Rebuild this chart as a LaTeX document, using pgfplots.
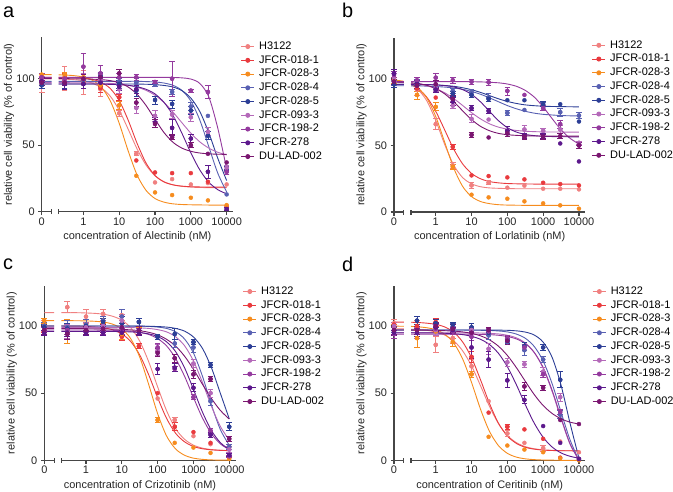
\documentclass[border=0pt]{standalone}
\usepackage{fontspec}
\setmainfont{Liberation Sans}
\usepackage{pgfplots}
\usepackage{pgfplotstable}
\pgfplotsset{compat=1.18}
\definecolor{c1}{RGB}{240,128,128}
\definecolor{c2}{RGB}{233,58,62}
\definecolor{c3}{RGB}{246,140,30}
\definecolor{c4}{RGB}{88,96,178}
\definecolor{c5}{RGB}{44,62,150}
\definecolor{c6}{RGB}{180,105,185}
\definecolor{c7}{RGB}{148,58,158}
\definecolor{c8}{RGB}{92,24,140}
\definecolor{c9}{RGB}{122,22,112}
\definecolor{axcol}{RGB}{70,70,70}
\newcommand\fs{\fontsize{11}{13}\selectfont}

% ---------------- Panel a (Alectinib)
\pgfplotstableread{
x      s1   e1  s2   e2 s3   e3 s4   e4 s5  e5 s6  e6 s7   e7 s8 e8 s9   e9
-1.165 96   6   100  2  103  1  97   2  95  2  100 2  101  3  98 3  97   2
-0.523 100  9   101  3  103  2  97   2  96  3  99  2  100  3  96 4  97   2
0      97   9   99   3  101  3  99   3  96  3  100 4  109  10 96 3  100  3
0.477  92   5   93   3  95   3  101  3  102 3  99  4  104  6  97 3  101  3
1      74   2   86   2  80   3  98   2  96  3  92  3  101  3  94 3  104  3
1.477  43.5 1.5 38.5 0  27   0  97   3  91  4  78  4  101  2  92 3  82   3
2      22   0   29.5 0  14.5 0  95.5 1  84  3  72  4  97.5 1  67 4  66   3
2.477  24.5 0   29   0  12.5 0  90   2  81  3  73  3  100  13 63 6  56   2
3      20.5 0   29   0  10.5 0  79   3  76  3  71  3  91   1  55 3  50   2
3.477  21.5 0   22.5 0  8.5  0  72   0  57  3  60  3  90   5  30 5  43.5 0
4      20.5 0   4    0  5    0  13   0  31  3  33  2  30   2  2  1  37   0
}\ptsA
\pgfplotstableread{
x      c1   c2    c3    c4   c5   c6   c7    c8   c9
-1.165 100  101   103   98   96   97   101   96   100
-0.89  100  101   103   98   96   97   101   96   100
-0.8   nan  nan   nan   nan  nan  nan  nan   nan  nan
-0.69  99.8 101   102.8 98   96   97   101   96   100
-0.5   99.6 100.9 102.7 98   96   97   101   96   100
-0.25  99.2 100.7 102.2 98   96   96.9 101   96   99.9
0      98.4 100.3 101.2 98   96   96.9 101   96   99.8
0.25   96.6 99.4  98.8  98   96   96.8 101   96   99.6
0.5    93.1 97.2  93.6  98   96   96.6 101   95.9 99.3
0.75   86.8 92.6  83.3  98   96   96.4 101   95.7 98.5
1      76.2 83.5  66.4  98   96   95.9 101   95.5 96.9
1.25   62.0 68.8  45.7  98   96   95.0 101   95.0 93.7
1.5    47.1 51.3  27.5  98   95.9 93.6 101   93.9 88.2
1.75   35.0 36.5  16.0  97.8 95.8 91.2 101   92.0 79.8
2      27.0 27.2  9.9   97.5 95.5 87.5 101   88.5 69.4
2.25   22.5 22.4  7.2   96.7 94.9 82.1 101   82.2 59.5
2.5    20.2 20.2  5.9   95.0 93.7 74.9 100.9 72.4 52.2
2.75   19.1 19.2  5.4   91.2 91.0 66.9 100.6 59.0 47.8
3      18.5 18.8  5.2   83.2 85.4 59.0 99.7  44.2 45.4
3.25   18.2 18.6  5.1   68.9 75.3 52.5 96.4  31.4 44.1
3.5    18.1 18.5  5.0   49.0 59.4 47.8 86.4  22.2 43.5
3.75   18.0 18.5  5.0   29.1 40.3 44.7 63.0  16.6 43.2
4      18.0 18.5  5.0   14.8 23.4 42.7 32.1  13.4 43.1
}\curA

% ---------------- Panel b (Lorlatinib)
\pgfplotstableread{
x      s1   e1  s2   e2 s3  e3 s4   e4 s5 e5 s6   e6 s7   e7 s8   e8 s9   e9
-1.165 101  3   101  3  99  2  97   2  96 2  101  3  103  3  104  3  98   2
-0.523 92   4   93   2  88  3  98   2  97 2  95   3  99   2  96   3  95   2
0      66   4   86   0  79  3  93   2  92 2  93   2  101  3  92   2  96   3
0.477  35   2   49   2  34  2  91   2  89 2  80   2  99   2  83   3  85   3
1      20   2   27.5 0  13  0  90   2  88 2  70   3  98   2  78   2  58   2
1.477  22   1.5 27   0  11  0  86   3  85 2  69.5 0  97.5 2  76   2  56   0
2      18.3 0   26   0  10  0  74.5 2  84 0  60   2  91   3  61   3  59   2
2.477  19.8 0   24.5 0  8   0  76.7 0  84 0  62   3  88   0  57   2  56.5 2
3      17.5 0   22   0  6.5 0  79   3  81 2  61   2  78   2  57   2  56.5 2
3.477  17.5 0   21   0  5   0  75   3  81 0  62   3  66   3  51.5 0  57   2
4      17   0   20   0  2.5 0  72.5 2  68 0  52   1  51   1  38   0  50   2
}\ptsB
\pgfplotstableread{
x      c1   c2   c3   c4   c5   c6   c7   c8   c9
-1.165 99.2 98.9 99.3 94.9 96.0 97.6 98.0 96.0 97.8
-0.89  98.0 97.6 98.2 94.9 95.9 97.2 98.0 96.0 97.5
-0.8   nan  nan  nan  nan  nan  nan  nan  nan  nan
-0.69  96.0 95.8 96.4 94.8 95.9 96.8 98.0 95.9 97.1
-0.5   92.3 92.8 93.4 94.8 95.8 96.2 98.0 95.9 96.6
-0.25  83.6 86.3 85.7 94.6 95.7 94.9 98.0 95.8 95.2
0      68.9 75.7 71.8 94.3 95.5 92.8 98.0 95.5 92.8
0.25   50.8 61.7 52.5 93.9 95.1 89.6 98.0 95.0 88.8
0.5    35.4 47.4 33.2 93.2 94.5 85.3 98.0 94.0 83.0
0.75   25.9 36.2 19.3 92.2 93.4 80.1 98.0 92.0 76.1
1      21.2 29.0 11.6 90.6 91.9 74.7 97.9 88.4 69.5
1.25   19.0 25.0 7.9  88.5 89.9 70.0 97.8 82.8 64.4
1.5    18.1 22.9 6.3  85.8 87.5 66.3 97.5 75.7 61.1
1.75   17.8 21.9 5.5  82.9 85.1 63.8 97.1 68.7 59.1
2      17.6 21.4 5.2  80.0 83.1 62.3 96.2 63.4 58.1
2.25   17.5 21.2 5.1  77.6 81.6 61.3 94.5 60.1 57.6
2.5    17.5 21.1 5.0  75.7 80.5 60.7 91.4 58.3 57.3
2.75   17.5 21.0 5.0  74.3 79.9 60.4 86.4 57.4 57.1
3      17.5 21.0 5.0  73.4 79.5 60.2 79.0 56.9 57.1
3.25   17.5 21.0 5.0  72.9 79.3 60.1 70.2 56.7 57.0
3.5    17.5 21.0 5.0  72.5 79.2 60.1 61.8 56.6 57.0
3.75   17.5 21.0 5.0  72.3 79.1 60.0 55.4 56.5 57.0
4      17.5 21.0 5.0  72.2 79.0 60.0 51.1 56.5 57.0
}\curB

% ---------------- Panel c (Crizotinib)
\pgfplotstableread{
x      s1  e1 s2 e2 s3  e3 s4  e4 s5  e5 s6  e6 s7 e7 s8 e8 s9   e9
-1.165 100 4  98 3  104 2  100 3  99  2  97  3  96 3  95 2  97   3
-0.523 114 4  95 5  96  9  99  5  98  4  96  5  97 3  95 3  94   4
0      107 5  97 2  101 4  101 4  100 3  99  4  96 3  95 2  97   3
0.477  109 3  97 3  104 2  104 3  103 3  100 4  96 2  95 2  98   3
1      108 4  92 3  94  4  107 5  102 5  104 5  96 2  95 2  99   3
1.477  96  0  85 2  96  3  103 3  103 3  97  3  96 2  95 2  97   3
2      46  0  50 0  30  2  92  2  92  2  82  4  84 3  68 4  80   3
2.477  30  2  25 3  13  0  87  3  94  4  76  3  68 2  69 3  76   3
3      18  0  21 0  9.5 0  84  4  88  2  72  3  47 2  54 3  64   3
3.477  12  0  13 0  5.5 0  44  3  71  2  50  3  22 2  19 2  60.5 2
4      10  2  2  0  1   0  10  2  25  3  8   2  3  1  4  1  16   2
}\ptsC
\pgfplotstableread{
x      c1    c2    c3    c4    c5    c6   c7   c8   c9
-1.165 110.0 100.0 104.0 100.0 100.0 99.0 97.0 96.0 98.0
-0.89  110.0 100.0 104.0 100.0 100.0 99.0 97.0 96.0 98.0
-0.8   nan   nan   nan   nan   nan   nan  nan  nan  nan
-0.69  110.0 100.0 104.0 100.0 100.0 99.0 97.0 96.0 98.0
-0.5   109.9 99.9  104.0 100.0 100.0 99.0 97.0 96.0 98.0
-0.25  109.9 99.9  103.9 100.0 100.0 99.0 97.0 96.0 98.0
0      109.7 99.7  103.8 100.0 100.0 99.0 97.0 96.0 98.0
0.25   109.4 99.3  103.5 100.0 100.0 99.0 97.0 96.0 97.9
0.5    108.7 98.6  102.9 100.0 100.0 99.0 96.9 96.0 97.8
0.75   107.2 97.1  101.3 100.0 100.0 99.0 96.8 95.9 97.7
1      104.3 94.1  97.8  100.0 100.0 98.9 96.6 95.8 97.5
1.25   98.7  88.4  90.5  99.9  100.0 98.8 96.2 95.6 97.1
1.5    88.7  78.4  76.8  99.9  99.9  98.6 95.3 95.1 96.5
1.75   73.4  63.7  56.5  99.7  99.8  98.2 93.7 94.1 95.3
2      54.7  46.6  34.7  99.2  99.6  97.3 90.6 92.2 93.4
2.25   36.9  31.2  18.1  98.2  99.2  95.6 85.2 88.2 90.1
2.5    23.6  20.2  8.5   95.7  98.2  92.0 75.9 81.0 85.1
2.75   15.7  13.8  3.8   90.4  96.2  85.4 62.7 69.0 77.6
3      11.3  10.3  1.6   79.9  91.8  74.0 46.8 52.9 67.8
3.25   9.1   8.6   0.7   62.7  83.4  58.1 31.6 36.0 56.7
3.5    8.0   7.8   0.3   41.5  69.1  40.4 19.9 22.3 46.1
3.75   7.5   7.4   0.1   23.0  50.0  25.3 12.3 13.2 37.2
4      7.2   7.2   0.1   11.2  30.9  15.0 7.9  8.1  30.7
}\curC

% ---------------- Panel d (Ceritinib)
\pgfplotstableread{
x      s1  e1 s2   e2 s3   e3 s4 e4 s5  e5 s6   e6 s7 e7 s8   e8 s9  e9
-1.165 102 3  101  2  99   2  97 2  96  3  100  3  94 3  95   2  97  3
-0.523 98  6  100  3  91   7  97 3  104 3  95   4  95 3  95   3  97  3
0      86  6  103  3  96   3  100 3 102 3  97   4  98 3  99   3  100 3
0.477  91  4  98   2  88   3  99 3  101 2  97   3  96 2  97   2  98  3
1      70  5  77   4  64   2  97 3  99  3  97   3  92 3  84   8  95  3
1.477  44  0  35.5 0  17.5 0  93 3  95  2  83   4  96 2  75   6  97  2
2      20  2  25   2  11   0  88 2  89  2  73   3  91 2  59.5 5  89  3
2.477  13  0  23   0  8    0  82 4  85  3  71.5 2  84 2  45   3  55  3
3      9   2  16   0  6    0  75 2  84  2  66   3  64 2  25.5 0  54  2
3.477  14  0  2    0  1.5  0  34 3  60  6  47   3  36 2  13   0  30  0
4      6   0  1    0  0    0  1  0  1   0  1    0  1  0  1    0  27  0
}\ptsD
\pgfplotstableread{
x      c1   c2    c3   c4   c5   c6   c7   c8   c9
-1.165 97.9 102.9 99.9 97.0 97.0 95.0 94.0 95.0 97.0
-0.89  97.8 102.9 99.8 97.0 97.0 95.0 94.0 95.0 97.0
-0.8   nan  nan   nan  nan  nan  nan  nan  nan  nan
-0.69  97.6 102.8 99.7 97.0 97.0 95.0 94.0 95.0 96.9
-0.5   97.4 102.6 99.4 97.0 97.0 95.0 94.0 94.9 96.9
-0.25  96.8 102.1 98.7 97.0 97.0 95.0 94.0 94.9 96.9
0      95.5 101.2 97.2 97.0 97.0 95.0 94.0 94.8 96.7
0.25   93.3 99.3  93.9 97.0 97.0 95.0 94.0 94.6 96.5
0.5    89.0 95.4  87.4 97.0 97.0 95.0 94.0 94.2 96.2
0.75   81.6 88.2  75.6 97.0 97.0 95.0 94.0 93.6 95.6
1      70.3 76.4  58.0 96.9 97.0 94.9 93.9 92.3 94.5
1.25   55.6 60.0  38.1 96.8 97.0 94.8 93.8 90.1 92.7
1.5    40.2 42.4  21.6 96.7 97.0 94.5 93.6 86.2 89.7
1.75   27.4 27.7  11.0 96.3 96.9 94.1 93.1 79.7 85.0
2      18.5 18.1  5.2  95.6 96.8 93.1 92.2 69.7 78.1
2.25   13.2 12.6  2.4  94.0 96.4 91.2 90.4 56.4 69.1
2.5    10.2 9.7   1.1  90.9 95.5 87.4 86.9 41.5 58.9
2.75   8.6  8.3   0.5  84.8 93.3 80.4 80.3 27.7 49.0
3      7.8  7.6   0.2  74.0 88.0 68.6 69.1 17.1 40.8
3.25   7.4  7.3   0.1  57.1 76.7 51.3 52.2 9.9  34.9
3.5    7.2  7.1   0.0  35.9 55.9 30.9 31.8 5.5  30.9
3.75   7.1  7.1   0.0  15.3 27.7 12.1 12.4 3.0  28.4
4      7.0  7.0   0.0  0.0  1.6  0.5  0.3  1.6  27.0
}\curD

\pgfplotsset{
  panel/.style={
    scale only axis, width=191.4bp,
    xmin=-1.165, xmax=4.18, ymin=0,
    axis lines=left,
    axis line style={-, line width=1.2bp, draw=axcol},
    x axis line style={draw=none},
    xtick={-1.165,0,1,2,3,4},
    xticklabels={0,1,10,100,1000,10000},
    extra x ticks={-0.89,-0.69},
    extra x tick labels={},
    extra x tick style={tick align=center, major tick length=5bp},
    ytick={0,50,100}, yticklabels={0,50,100},
    tick align=outside, major tick length=3.5bp,
    tick style={line width=1.2bp, draw=axcol},
    tick label style={font=\fs, text=black!85},
    xticklabel style={yshift=1bp},
    label style={font=\fs, text=black!85},
    xlabel style={at={(axis description cs:0.5,-0.143)}, anchor=center},
    ylabel style={at={(axis description cs:-0.17,0.5)}, anchor=center},
    ylabel={relative cell viability (\% of control)},
    clip=false,
    unbounded coords=jump,
    legend style={draw=none, fill=none, font=\fs, anchor=north west,
      inner sep=0pt, outer sep=0pt, row sep=3.45bp, column sep=4.3bp,
      nodes={inner sep=0pt, text height=8bp, text depth=2.3bp}},
    legend cell align=left,
    legend image code/.code={\draw[mark repeat=2,mark phase=2,##1]
      plot coordinates {(0bp,0bp) (6.65bp,0bp) (13.3bp,0bp)};},
  },
  curve/.style={no marks, smooth, line width=0.9bp},
  lgd/.style={mark=*, mark size=2bp, line width=0.9bp},
  pts/.style={only marks, mark=*, mark size=2bp},
  errs/.style={only marks, mark=none,
    error bars/y dir=both, error bars/y explicit,
    error bars/error bar style={line width=0.8bp},
    error bars/error mark options={rotate=90, mark size=2.8bp, line width=0.8bp}},
}
\newcommand\xbreak{%
  \draw[axcol, line width=1.2bp] (axis cs:-1.165,0) -- (axis cs:-0.89,0);
  \draw[axcol, line width=1.2bp] (axis cs:-0.69,0) -- (axis cs:4.18,0);}
\newcommand\mylegend{%
  \addlegendimage{c1,lgd}\addlegendentry{H3122}
  \addlegendimage{c2,lgd}\addlegendentry{JFCR-018-1}
  \addlegendimage{c3,lgd}\addlegendentry{JFCR-028-3}
  \addlegendimage{c4,lgd}\addlegendentry{JFCR-028-4}
  \addlegendimage{c5,lgd}\addlegendentry{JFCR-028-5}
  \addlegendimage{c6,lgd}\addlegendentry{JFCR-093-3}
  \addlegendimage{c7,lgd}\addlegendentry{JFCR-198-2}
  \addlegendimage{c8,lgd}\addlegendentry{JFCR-278}
  \addlegendimage{c9,lgd}\addlegendentry{DU-LAD-002}}
\newcommand\plotall[2]{%
  \pgfplotsinvokeforeach{1,...,9}{\addplot[curve, color=c##1, forget plot] table[x=x,y=c##1]{#2};}
  \pgfplotsinvokeforeach{1,...,9}{%
    \addplot[color=c##1, forget plot, errs, restrict expr to domain={\thisrow{e##1}}{0.5:1000}] table[x=x,y=s##1,y error=e##1]{#1};
    \addplot[color=c##1, forget plot, pts] table[x=x,y=s##1]{#1};}}

\begin{document}
\begin{tikzpicture}
\path[use as bounding box] (0,0) rectangle (673bp,-492bp);

\begin{axis}[panel, at={(41.7bp,-211.7bp)}, anchor=south west,
  height=174.3bp, ymax=131,
  xlabel={concentration of Alectinib (nM)},
  legend style={at={(1.0397,0.977)}}]
\xbreak
\plotall{\ptsA}{\curA}
\mylegend
\end{axis}

\begin{axis}[panel, at={(394bp,-212bp)}, anchor=south west,
  height=174.3bp, ymax=131,
  xlabel={concentration of Lorlatinib (nM)},
  legend style={at={(1.033,0.986)}}]
\xbreak
\plotall{\ptsB}{\curB}
\mylegend
\end{axis}

\begin{axis}[panel, at={(44.3bp,-460.3bp)}, anchor=south west,
  height=174.6bp, ymax=130,
  xlabel={concentration of Crizotinib (nM)},
  legend style={at={(1.0366,0.996)}}]
\xbreak
\plotall{\ptsC}{\curC}
\mylegend
\end{axis}

\begin{axis}[panel, at={(394bp,-460.3bp)}, anchor=south west,
  height=174.6bp, ymax=130,
  xlabel={concentration of Ceritinib (nM)},
  legend style={at={(1.036,0.996)}}]
\xbreak
\plotall{\ptsD}{\curD}
\mylegend
\end{axis}

\node[anchor=base west, font=\fontsize{20}{20}\selectfont, inner sep=0pt] at (3bp,-17bp) {a};
\node[anchor=base west, font=\fontsize{20}{20}\selectfont, inner sep=0pt] at (342bp,-17bp) {b};
\node[anchor=base west, font=\fontsize{20}{20}\selectfont, inner sep=0pt] at (3bp,-269.5bp) {c};
\node[anchor=base west, font=\fontsize{20}{20}\selectfont, inner sep=0pt] at (342bp,-271bp) {d};
\end{tikzpicture}
\end{document}
